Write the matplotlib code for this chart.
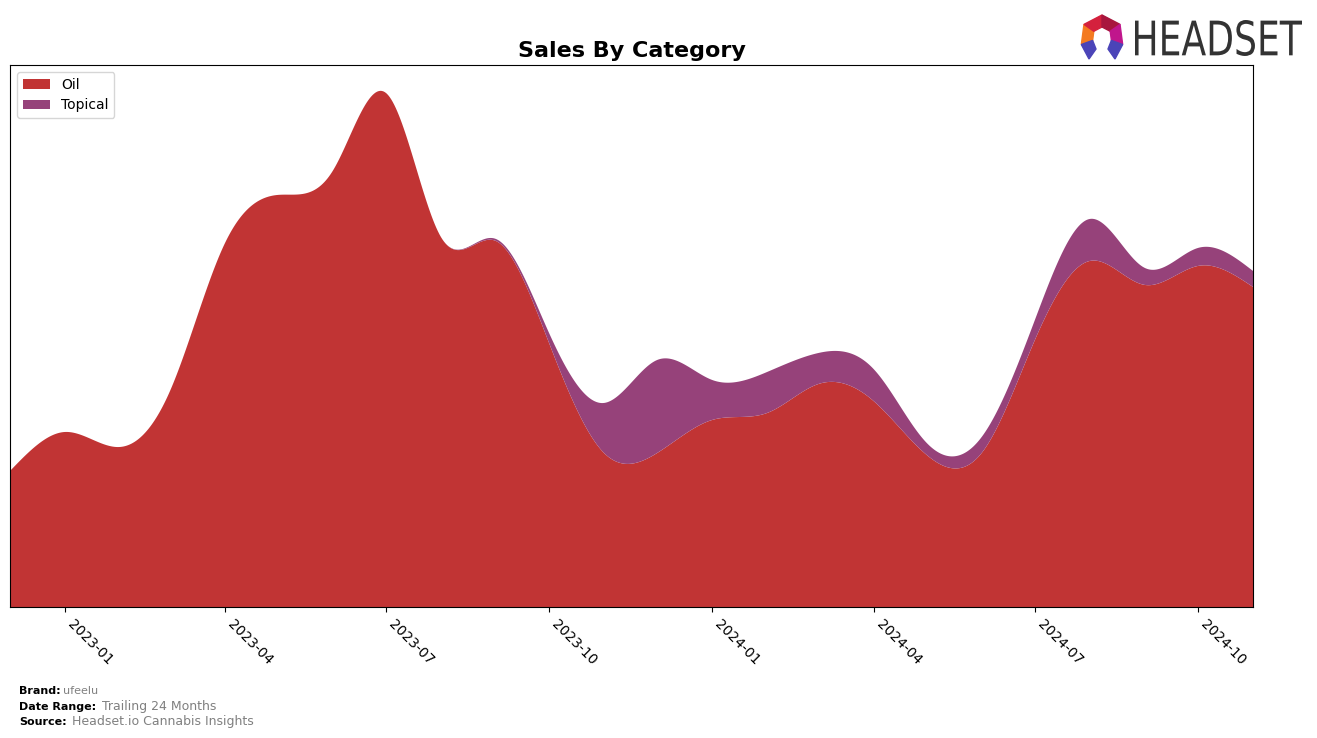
import numpy as np
import pandas as pd
import matplotlib
matplotlib.use("Agg")
import matplotlib.pyplot as plt
import matplotlib.dates as mdates
from matplotlib.patches import Polygon, PathPatch
from matplotlib.textpath import TextPath
from matplotlib.font_manager import FontProperties
from matplotlib.transforms import Affine2D, IdentityTransform

# monthly sales (arbitrary units)
months = pd.date_range("2022-12-01", "2024-11-01", freq="MS")
categories = ["Oil", "Topical"]
oil = [136, 175, 160, 215, 363, 412, 436, 514, 370, 366, 264, 154,
       154, 187, 194, 223, 206, 152, 154, 267, 346, 322, 341, 320]
topical = [0, 0, 0, 0, 0, 0, 0, 0, 0, 2, 10, 50,
           93, 40, 41, 31, 32, 12, 16, 20, 42, 17, 18, 16]
colors = ["#c13434", "#96427a"]


def spline(x, y, xs):
    # natural cubic spline, just for drawing smooth edges
    x = np.asarray(x, float)
    y = np.asarray(y, float)
    n = len(x)
    h = np.diff(x)
    A = np.zeros((n, n))
    b = np.zeros(n)
    A[0, 0] = 1
    A[-1, -1] = 1
    for i in range(1, n - 1):
        A[i, i - 1] = h[i - 1]
        A[i, i] = 2 * (h[i - 1] + h[i])
        A[i, i + 1] = h[i]
        b[i] = 6 * ((y[i + 1] - y[i]) / h[i] - (y[i] - y[i - 1]) / h[i - 1])
    M = np.linalg.solve(A, b)
    idx = np.clip(np.searchsorted(x, xs) - 1, 0, n - 2)
    x0, x1 = x[idx], x[idx + 1]
    hh = x1 - x0
    t0 = x1 - xs
    t1 = xs - x0
    return (M[idx] * t0 ** 3 / (6 * hh) + M[idx + 1] * t1 ** 3 / (6 * hh)
            + (y[idx] / hh - M[idx] * hh / 6) * t0
            + (y[idx + 1] / hh - M[idx + 1] * hh / 6) * t1)


xnum = mdates.date2num(months)
xs = np.linspace(xnum[0], xnum[-1], 800)
oil_s = np.clip(spline(xnum, oil, xs), 0, None)
top_s = np.clip(spline(xnum, topical, xs), 0, None)
xd = mdates.num2date(xs)

fig = plt.figure(figsize=(13.17, 7.38), dpi=100)
ax = fig.add_axes([0.0076, 0.1775, 0.9438, 0.7344])
ax.stackplot(xd, oil_s, top_s, labels=categories, colors=colors)
ax.set_xlim(xd[0], xd[-1])
ax.set_ylim(0, max(oil_s + top_s) * 1.05)
ax.set_yticks([])
ax.xaxis.set_major_locator(mdates.MonthLocator(bymonth=[1, 4, 7, 10]))
ax.xaxis.set_major_formatter(mdates.DateFormatter("%Y-%m"))
plt.setp(ax.get_xticklabels(), rotation=-45, ha="left")
ax.set_title("Sales By Category", fontsize=16, fontweight="bold")
ax.legend(loc="upper left")

# footer
fig.text(0.0144, 0.0595, "Brand:", fontsize=8, fontweight="bold")
fig.text(0.048, 0.0595, "ufeelu", fontsize=8, color="gray")
fig.text(0.0144, 0.0385, "Date Range:", fontsize=8, fontweight="bold")
fig.text(0.0775, 0.0385, "Trailing 24 Months", fontsize=9, color="gray")
fig.text(0.0144, 0.0175, "Source:", fontsize=8, fontweight="bold")
fig.text(0.0547, 0.0175, "Headset.io Cannabis Insights", fontsize=9, color="gray")

# logo text, squeezed into its box (display pixels)
W, H = 1317.0, 738.0
tp = TextPath((0, 0), "HEADSET", size=1, prop=FontProperties(family="DejaVu Sans"))
ext = tp.get_extents()
bx0, bx1, by0, by1 = 1135, 1302, H - 56, H - 20
tr = (Affine2D().translate(-ext.x0, -ext.y0)
      .scale((bx1 - bx0) / ext.width, (by1 - by0) / ext.height)
      .translate(bx0, by0))
fig.patches.append(PathPatch(tr.transform_path(tp), color="#333333", lw=0,
                             transform=IdentityTransform()))

# logo mark
cx, cy = 1102, 37
ro, ri = 22, 10
seg_cols = ["#f47a20", "#d4213d", "#a8163d", "#c0168c"]
angs = np.deg2rad([200, 145, 90, 35, -20])
for i, c in enumerate(seg_cols):
    a0, a1 = angs[i], angs[i + 1]
    pts = [(cx + ro * np.cos(a0), cy - ro * np.sin(a0)),
           (cx + ro * np.cos(a1), cy - ro * np.sin(a1)),
           (cx + ri * np.cos(a1), cy - ri * np.sin(a1)),
           (cx + ri * np.cos(a0), cy - ri * np.sin(a0))]
    fig.patches.append(Polygon([(px / W, 1 - py / H) for px, py in pts],
                               closed=True, color=c, transform=fig.transFigure))
for sx in (-1, 1):
    a = np.deg2rad(-20 if sx > 0 else 200)
    p1 = (cx + ro * np.cos(a), cy - ro * np.sin(a))
    p2 = (cx + ri * np.cos(a), cy - ri * np.sin(a))
    p3 = (cx + sx * 6, cy + 12)
    p4 = (cx + sx * 13, cy + 22)
    fig.patches.append(Polygon([(px / W, 1 - py / H) for px, py in (p1, p2, p3, p4)],
                               closed=True, color="#4b44b8", transform=fig.transFigure))

fig.savefig("out.png", dpi=100)
